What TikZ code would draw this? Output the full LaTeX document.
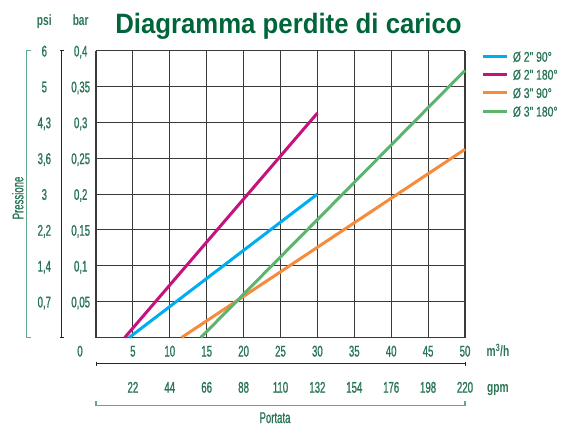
\documentclass[tikz,border=0pt]{standalone}
\usepackage{fontspec}
\setmainfont{Liberation Sans}
\newfontfamily\condf[FakeStretch=0.62,FakeBold=1]{Liberation Sans}
\newfontfamily\condbf[FakeStretch=0.68]{Liberation Sans}
\newfontfamily\legf[FakeStretch=0.74,FakeBold=0.8]{Liberation Sans}
\newfontfamily\titlef[FakeStretch=0.92]{Liberation Sans}
\definecolor{titlegreen}{HTML}{00663A}
\definecolor{txtgreen}{HTML}{2A7555}
\definecolor{brgreen}{HTML}{62A88A}
\definecolor{cbluel}{HTML}{00AEEF}
\definecolor{cmagl}{HTML}{C4137C}
\definecolor{coranl}{HTML}{F68B3C}
\definecolor{cgreenl}{HTML}{5BB56E}
\definecolor{gridc}{HTML}{3A3A3A}
\tikzset{
  numlbl/.style={text=txtgreen, font=\condf\fontsize{15.5}{16}\selectfont, anchor=base, inner sep=0pt},
  unitlbl/.style={text=txtgreen, font=\condbf\bfseries\fontsize{15}{16}\selectfont, anchor=base, inner sep=0pt},
  leglbl/.style={text=txtgreen, font=\legf\fontsize{14}{15}\selectfont, anchor=base west, inner sep=0pt},
  gridline/.style={draw=gridc, line width=1.1pt},
  axisline/.style={draw=black!85, line width=1pt},
  bracketline/.style={draw=brgreen, line width=1.3pt},
  dataline/.style={line width=3pt},
}
\begin{document}
\begin{tikzpicture}[x=1pt,y=1pt]
\useasboundingbox (0,0) rectangle (563,-425);
% title
\node[text=titlegreen, font=\titlef\bfseries\fontsize{28}{30}\selectfont, anchor=base, inner sep=0pt] (title) at (288.5,-33.2) {Diagramma perdite di carico};
% headers
\node[unitlbl] (psi) at (44.3,-26) {psi};
\node[unitlbl] (bar) at (80.7,-26) {bar};
% grid
\foreach \i in {0,...,10} {
  \draw[gridline] ({96+\i*36.9},-50.7) -- ({96+\i*36.9},-337.5);
}
\foreach \j in {0,...,8} {
  \draw[gridline] (96,{-337.5+\j*35.85}) -- (465,{-337.5+\j*35.85});
}
% data lines (x in m3/h, y in bar)
\begin{scope}[shift={(96,-337.5)}, x=7.38pt, y=717pt]
  \coordinate (b0) at (4.5,0);   \coordinate (b1) at (30,0.2);
  \coordinate (m0) at (3.9,0);   \coordinate (m1) at (30,0.313);
  \coordinate (o0) at (11.6,0);  \coordinate (o1) at (50,0.2625);
  \coordinate (g0) at (14.2,0);  \coordinate (g1) at (50,0.3725);
  \draw[dataline, cmagl] (m0) -- (m1);
  \draw[dataline, cbluel] (b0) -- (b1);
  \draw[dataline, coranl] (o0) -- (o1);
  \draw[dataline, cgreenl] (g0) -- (g1);
\end{scope}
% left labels
\foreach \p/\b [count=\j] in {{0,7}/{0,05}, {1,4}/{0,1}, {2,2}/{0,15}, {3}/{0,2}, {3,6}/{0,25}, {4,3}/{0,3}, {5}/{0,35}, {6}/{0,4}} {
  \node[numlbl] at (44.3,{-337.5+\j*35.85-5.8}) {\p};
  \node[numlbl] at (80.7,{-337.5+\j*35.85-5.8}) {\b};
}
\node[numlbl] (zero) at (80,-356.5) {0};
% bar axis line
\coordinate (ba0) at (61.7,-50.7);
\coordinate (ba1) at (61.7,-337.5);
\draw[axisline] (ba0) -- (ba1);
\draw[axisline] (59.8,-50.7) -- (63.6,-50.7);
\draw[axisline] (59.8,-337.5) -- (63.6,-337.5);
% pressione bracket
\coordinate (pr0) at (26.7,-50.7);
\coordinate (pr1) at (26.7,-337.5);
\draw[bracketline] (31,-50.7) -- (pr0) -- (pr1) -- (31,-337.5);
\node[text=txtgreen, font=\condf\fontsize{15.5}{16}\selectfont, rotate=90, anchor=base, inner sep=0pt] (pressione) at (23.3,-198) {Pressione};
% bottom labels
\foreach \i [evaluate=\i as \v using int(5*\i), evaluate=\i as \g using int(22*\i)] in {1,...,10} {
  \node[numlbl] at ({96+\i*36.9},-356.5) {\v};
  \node[numlbl] at ({96+\i*36.9},-392.7) {\g};
}
\node[unitlbl] (mh) at (498,-356.5) {m\textsuperscript{3}/h};
\node[unitlbl] (gpm) at (498,-392) {gpm};
% m3/h axis line
\coordinate (mx0) at (96,-363.7);
\coordinate (mx1) at (465,-363.7);
\draw[axisline] (mx0) -- (mx1);
\draw[axisline] (96,-361.5) -- (96,-366);
\draw[axisline] (465,-361.5) -- (465,-366);
% portata bracket
\coordinate (po0) at (96,-405.2);
\coordinate (po1) at (465,-405.2);
\draw[bracketline] (96,-401) -- (po0) -- (po1) -- (465,-401);
\node[text=txtgreen, font=\condf\fontsize{15.5}{16}\selectfont, anchor=base, inner sep=0pt] (portata) at (275,-423) {Portata};
% legend
\foreach \c/\t/\y in {cbluel/{Ø 2" 90°}/56.7, cmagl/{Ø 2" 180°}/74.6, coranl/{Ø 3" 90°}/93, cgreenl/{Ø 3" 180°}/111.5} {
  \draw[dataline, \c] (483.3,-\y) -- (506.7,-\y);
  \node[leglbl] at (512.7,{-\y-5}) {\t};
}
\end{tikzpicture}
\end{document}
